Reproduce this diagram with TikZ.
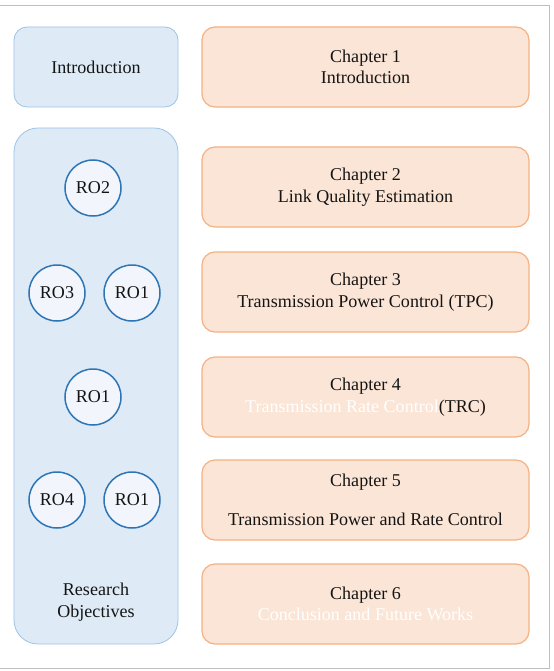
\documentclass[tikz,border=0pt]{standalone}
\usepackage{fontspec}
\setmainfont{Liberation Serif}
\usepackage{tikz}
\usetikzlibrary{positioning}

\definecolor{roFill}{HTML}{DEEBF7}
\definecolor{roLine}{HTML}{9DC3E6}
\definecolor{ringLine}{HTML}{2E75B6}
\definecolor{ringFill}{HTML}{F2F6FC}
\definecolor{chFill}{HTML}{FBE5D6}
\definecolor{chLine}{HTML}{F4B183}
\definecolor{frameGray}{HTML}{BFBFBF}

\tikzset{
	part/.style={draw=roLine, fill=roFill, line width=0.8bp, rounded corners=13bp,
		minimum width=164bp, align=center},
	chapter/.style={draw=chLine, fill=chFill, line width=1.2bp, rounded corners=13bp,
		minimum width=327bp, minimum height=80bp, align=center},
	ro/.style={circle, draw=ringLine, fill=ringFill, line width=1.5bp,
		minimum size=56bp, inner sep=0pt}
}

\begin{document}
\begin{tikzpicture}[x=1bp, y=-1bp, font=\fontsize{18.1}{21.5}\selectfont, text=black!92]
		\useasboundingbox (0,0) rectangle (554,671);

		% Frame
		\draw[frameGray, line width=1bp] (0,6) -- (549,6) -- (549,668) -- (0,668);

		% Left column
		\node[part, minimum height=80bp] (intro) at (96,67) {Introduction};
		\node[part, minimum height=516bp, rounded corners=24bp] (objectives) at (96,386) {};
		\node[align=center] (objlabel) at (96,602) {Research\\Objectives};

		% Research objectives circles
		\node[ro] (ro2) at (93,188) {RO2};
		\node[ro] (ro3) at (57,293) {RO3};
		\node[ro] (ro1a) at (132,293) {RO1};
		\node[ro] (ro1b) at (93,397) {RO1};
		\node[ro] (ro4) at (57,500) {RO4};
		\node[ro] (ro1c) at (132,500) {RO1};

		% Chapters
		\node[chapter] (ch1) at (365.5,67) {Chapter 1\\Introduction};
		\node[chapter] (ch2) at (365.5,187) {Chapter 2\\Link Quality Estimation};
		\node[chapter] (ch3) at (365.5,292) {Chapter 3\\Transmission Power Control (TPC)};
		\node[chapter] (ch4) at (365.5,397) {Chapter 4\\\textcolor{white}{Transmission Rate Control}(TRC)};
		\node[chapter] (ch5) at (365.5,500) {Chapter 5\\[18bp]Transmission Power and Rate Control};
		\node[chapter] (ch6) at (365.5,604) {Chapter 6\\\textcolor{white}{Conclusion and Future Works}};
	\end{tikzpicture}
\end{document}
